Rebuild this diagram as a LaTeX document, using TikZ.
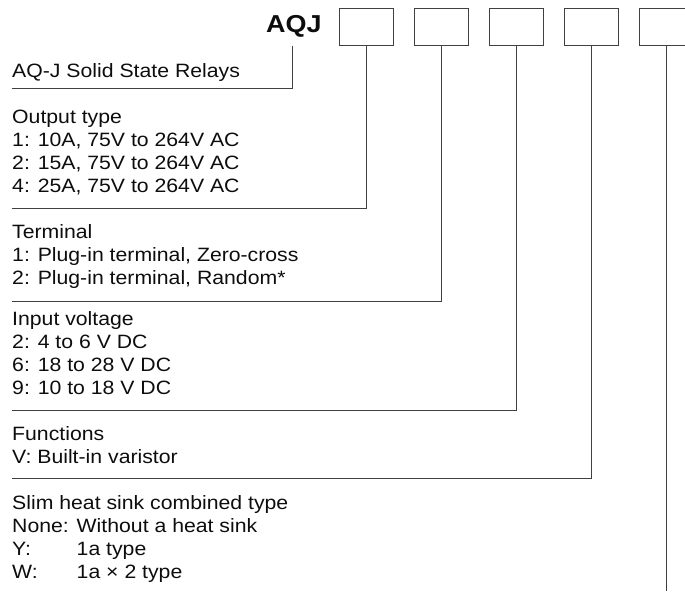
\documentclass[tikz,border=0pt]{standalone}
\usepackage{fontspec}
\setmainfont{Liberation Sans}[FakeStretch=1.1]
\begin{document}
\begin{tikzpicture}[x=1pt,y=-1pt,
  lbl/.style={anchor=base west, inner sep=0pt, font=\fontsize{19.3}{23}\selectfont, text=black!95},
  box/.style={draw=black!75, line width=0.8pt, minimum width=54pt, minimum height=37.4pt, inner sep=0pt},
  conn/.style={draw=black!75, line width=0.8pt}]
\useasboundingbox (0,0) rectangle (685,606);
\clip (0,0) rectangle (685,606);
% code header
\node[anchor=base west, inner sep=0pt, text=black!95, font=\bfseries\fontsize{24.5}{29}\selectfont] (aqj) at (266,32.5) {AQJ};
\node[box] (b1) at (366,27) {};
\node[box] (b2) at (441,27) {};
\node[box] (b3) at (516,27) {};
\node[box] (b4) at (591,27) {};
\node[box] (b5) at (666,27) {};
% texts
\node[lbl] (t0) at (12,77.5) {AQ-J Solid State Relays};
\node[lbl] (t1) at (12,123) {Output type};
\node[lbl] (t2) at (12,146) {1: 10A, 75V to 264V AC};
\node[lbl] (t3) at (12,169) {2: 15A, 75V to 264V AC};
\node[lbl] (t4) at (12,192) {4: 25A, 75V to 264V AC};
\node[lbl] (t5) at (12,238) {Terminal};
\node[lbl] (t6) at (12,261) {1: Plug-in terminal, Zero-cross};
\node[lbl] (t7) at (12,284) {2: Plug-in terminal, Random*};
\node[lbl] (t8) at (12,325) {Input voltage};
\node[lbl] (t9) at (12,348) {2: 4 to 6 V DC};
\node[lbl] (t10) at (12,371) {6: 18 to 28 V DC};
\node[lbl] (t11) at (12,394) {9: 10 to 18 V DC};
\node[lbl] (t12) at (12,440) {Functions};
\node[lbl] (t13) at (12,463) {V: Built-in varistor};
\node[lbl] (t14) at (12,509) {Slim heat sink combined type};
\node[lbl] (t15) at (12,532) {None: Without a heat sink};
\node[lbl] (t16) at (12,555) {\makebox[0pt][l]{Y:}\phantom{None: }1a type};
\node[lbl] (t17) at (12,578) {\makebox[0pt][l]{W:}\phantom{None: }1a × 2 type};
% connectors
\coordinate (j0) at (292,45.7);
\coordinate (e0) at (12,88.5);
\coordinate (e1) at (12,208);
\coordinate (e2) at (12,301);
\coordinate (e3) at (12,410);
\coordinate (e4) at (12,478);
\coordinate (e5) at (666,591);
\draw[conn] (j0) |- (e0);
\draw[conn] (b1.south) |- (e1);
\draw[conn] (b2.south) |- (e2);
\draw[conn] (b3.south) |- (e3);
\draw[conn] (b4.south) |- (e4);
\draw[conn] (b5.south) -- (e5);
\end{tikzpicture}
\end{document}
